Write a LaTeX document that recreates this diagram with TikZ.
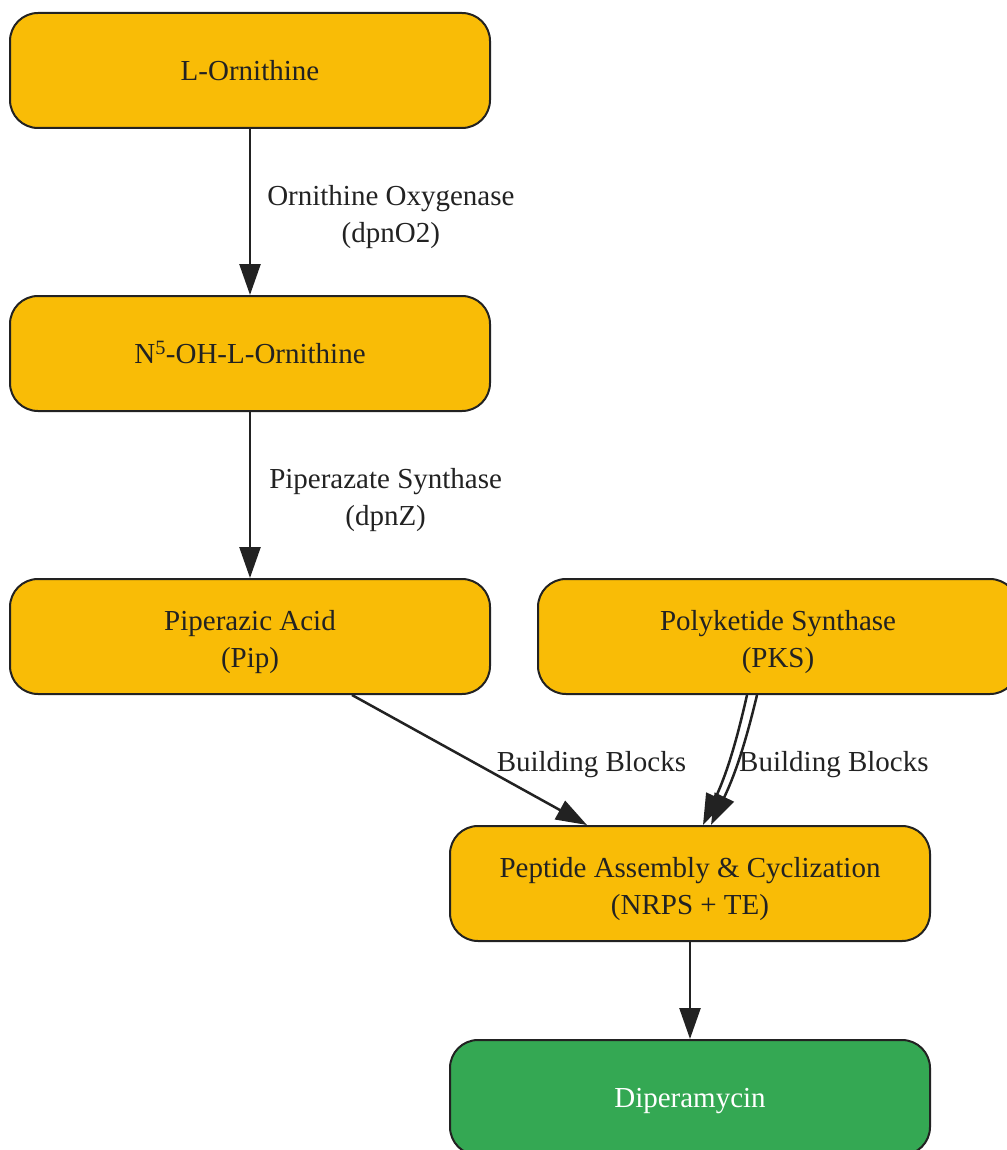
\documentclass[tikz,border=0pt]{standalone}
\usepackage{fontspec}
\setmainfont{Liberation Serif}
\usepackage{tikz}
\usetikzlibrary{arrows.meta,positioning,calc}

\definecolor{stepfill}{HTML}{F9BC06}
\definecolor{endfill}{HTML}{34A853}
\definecolor{inkline}{HTML}{222222}

\tikzset{
  box/.style={shape=rectangle, rounded corners=28pt, draw=inkline, line width=2pt,
    fill=stepfill, minimum width=480pt, minimum height=115pt, align=center,
    text=inkline, font=\fontsize{29}{37}\selectfont,
    execute at begin node={\rule[-12pt]{0pt}{44pt}}},
  twobox/.style={box, execute at begin node={\rule[-12pt]{0pt}{85pt}}},
  flow/.style={draw=inkline, line width=2.5pt, -{Triangle[length=31pt,width=21pt]}},
  lbl/.style={text=inkline, align=center, anchor=west, inner sep=0pt,
    font=\fontsize{29}{37}\selectfont}
}

\begin{document}
\begin{tikzpicture}[x=1pt, y=-1pt]
    \useasboundingbox (0,0) rectangle (1006,1150);
    \node[box] (orn) at (250,70.5) {L-Ornithine};
    \node[box] (ohorn) at (250,353.5) {N\textsuperscript{5}-OH-L-Ornithine};
    \node[twobox] (pip) at (250,636.5) {Piperazic Acid\\(Pip)};
    \node[twobox] (pks) at (778,636.5) {Polyketide Synthase\\(PKS)};
    \node[twobox] (pep) at (690,883.5) {Peptide Assembly \& Cyclization\\(NRPS + TE)};
    \node[box, fill=endfill, text=white] (dip) at (690,1097.5) {Diperamycin};
    % steps
    \path [flow] (orn) -- node[lbl, xshift=16pt, yshift=-5pt] {Ornithine Oxygenase\\(dpnO2)} (ohorn);
    \path [flow] (ohorn) -- node[lbl, xshift=18pt, yshift=-5pt] {Piperazate Synthase\\(dpnZ)} (pip);
    \path [flow] ([xshift=102pt]pip.south) -- node[lbl, xshift=26pt, yshift=-5pt] {Building Blocks} ([xshift=-103pt]pep.north);
    \path [flow] ([xshift=-31pt]pks.south) to[bend left=6] ([xshift=13pt]pep.north);
    \path [flow] ([xshift=-21pt]pks.south) to[bend left=6] node[lbl, xshift=0pt, yshift=-3pt] {Building Blocks} ([xshift=21pt]pep.north);
    \path [flow] (pep) -- (dip);
\end{tikzpicture}
\end{document}
